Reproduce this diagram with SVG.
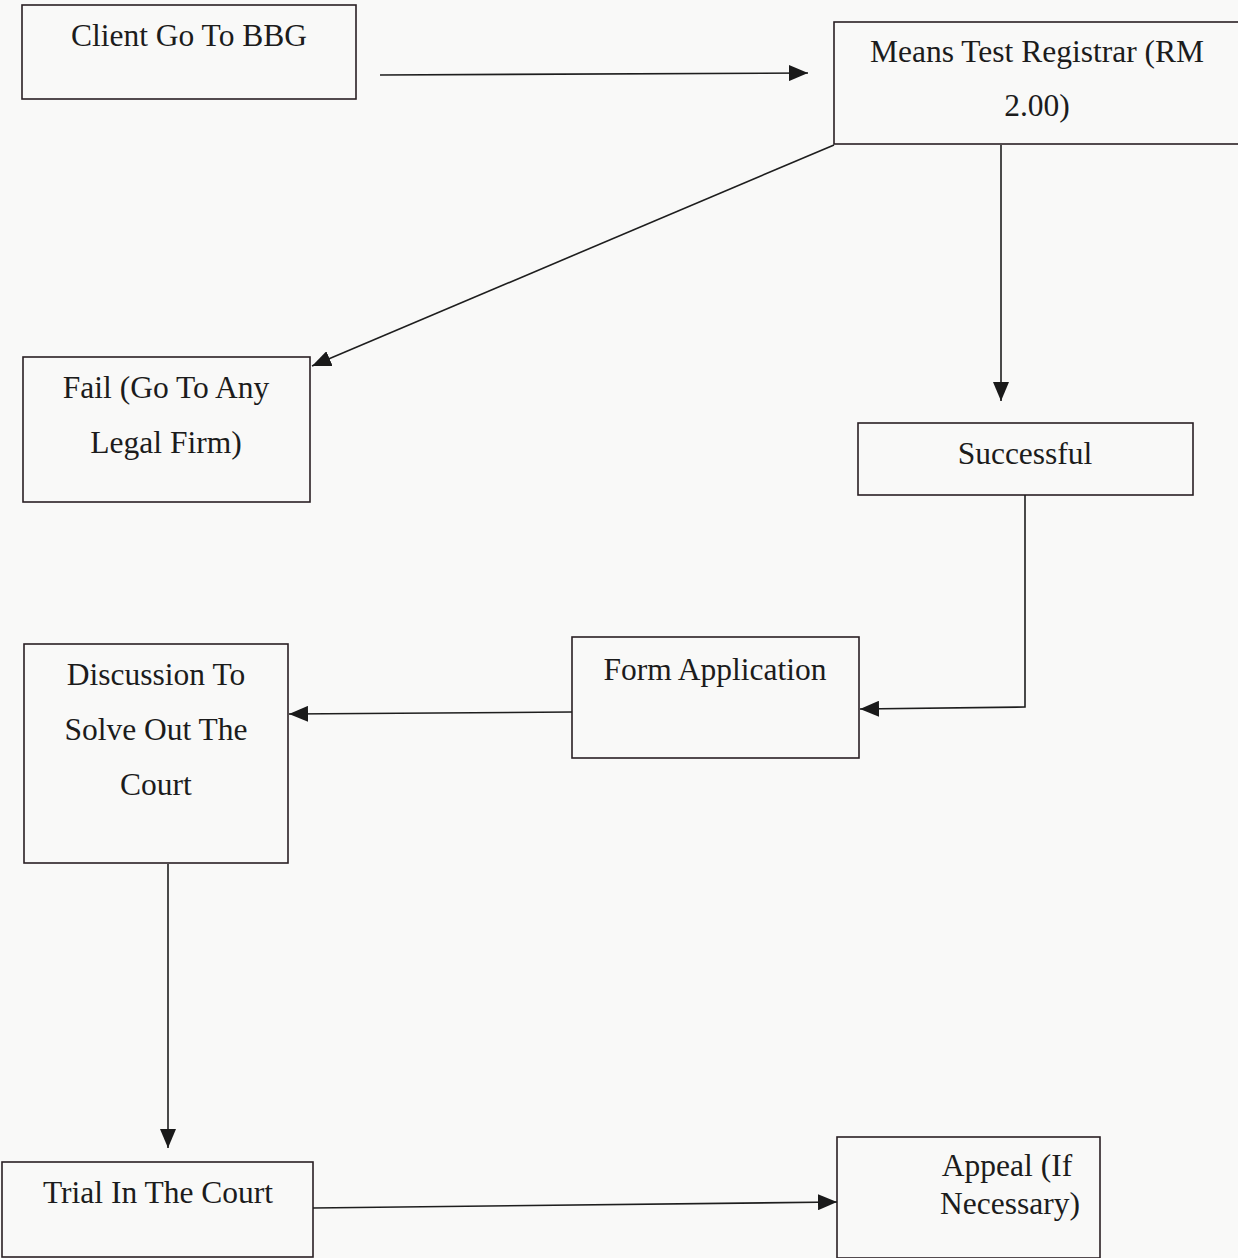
<svg xmlns="http://www.w3.org/2000/svg" width="1238" height="1258" viewBox="0 0 1238 1258">
<defs>
<marker id="ah" markerUnits="userSpaceOnUse" markerWidth="20" markerHeight="16" refX="19" refY="8" orient="auto">
<path d="M0,0 L19,8 L0,16 Z" fill="#1a1a1a"/>
</marker>
<style>
.box{fill:none;stroke:#2a2024;stroke-width:1.6}
.t{font-family:"Liberation Serif","Times New Roman",serif;font-size:31.5px;fill:#1c1c1c;text-anchor:middle}
.c{fill:none;stroke:#1e1e1e;stroke-width:1.6}
</style>
</defs>
<rect width="1238" height="1258" fill="#f9f9f8"/>
<g id="client"><rect class="box" x="22" y="5" width="334" height="94"/><text class="t" x="189" y="46">Client Go To BBG</text></g>
<g id="means"><rect class="box" x="834" y="22" width="410" height="122"/><text class="t" x="1037" y="62">Means Test Registrar (RM</text><text class="t" x="1037" y="116">2.00)</text></g>
<g id="fail"><rect class="box" x="23" y="357" width="287" height="145"/><text class="t" x="166" y="398">Fail (Go To Any</text><text class="t" x="166" y="453">Legal Firm)</text></g>
<g id="successful"><rect class="box" x="858" y="423" width="335" height="72"/><text class="t" x="1025" y="464">Successful</text></g>
<g id="discussion"><rect class="box" x="24" y="644" width="264" height="219"/><text class="t" x="156" y="685">Discussion To</text><text class="t" x="156" y="740">Solve Out The</text><text class="t" x="156" y="795">Court</text></g>
<g id="form"><rect class="box" x="572" y="637" width="287" height="121"/><text class="t" x="715" y="680">Form Application</text></g>
<g id="trial"><rect class="box" x="2" y="1162" width="311" height="95"/><text class="t" x="158" y="1203">Trial In The Court</text></g>
<g id="appeal"><rect class="box" x="837" y="1137" width="263" height="121"/><text class="t" x="1007" y="1176">Appeal (If</text><text class="t" x="1010" y="1214">Necessary)</text></g>
<g id="connectors">
<path class="c" d="M380,75 L808,73" marker-end="url(#ah)"/>
<path class="c" d="M834,145 L312,366" marker-end="url(#ah)"/>
<path class="c" d="M1001,145 L1001,401" marker-end="url(#ah)"/>
<path class="c" d="M1025,495 L1025,707 L860,709" marker-end="url(#ah)"/>
<path class="c" d="M572,712 L289,714" marker-end="url(#ah)"/>
<path class="c" d="M168,864 L168,1148" marker-end="url(#ah)"/>
<path class="c" d="M313,1208 L837,1202" marker-end="url(#ah)"/>
</g>
</svg>
